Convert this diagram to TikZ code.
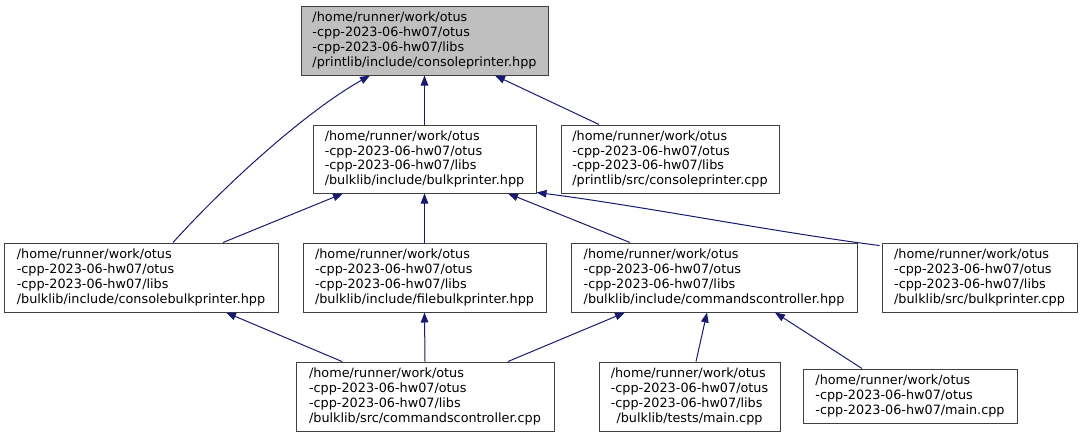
\documentclass[tikz,border=0pt]{standalone}
\usepackage{fontspec}
\setmainfont{DejaVu Sans}
\usetikzlibrary{arrows.meta}
\definecolor{edgeblue}{HTML}{191970}
\definecolor{boxline}{HTML}{404040}
\definecolor{topfill}{HTML}{BFBFBF}
\newlength\tmlinew
\begin{document}
\begin{tikzpicture}[x=1pt,y=-1pt,
  filebox/.style n args={2}{draw=boxline, line width=1pt, fill=white, align=left,
    inner sep=0pt, font=\fontsize{12.8}{14.7}\selectfont,
    minimum width=#1pt, minimum height=#2pt},
  dep/.style={draw=edgeblue, line width=1pt, -{Triangle[length=10pt,width=7.5pt]}}]
\useasboundingbox (0,0) rectangle (1082,437);

\node[filebox={247}{69}, fill=topfill] (T) at (424.5,40.5)
  {/home/runner/work/otus\\-cpp-2023-06-hw07/otus\\-cpp-2023-06-hw07/libs\\/printlib/include/consoleprinter.hpp};
\node[filebox={223}{68}] (B) at (424.5,159)
  {/home/runner/work/otus\\-cpp-2023-06-hw07/otus\\-cpp-2023-06-hw07/libs\\/bulklib/include/bulkprinter.hpp};
\node[filebox={218}{68}] (CP) at (670,159)
  {/home/runner/work/otus\\-cpp-2023-06-hw07/otus\\-cpp-2023-06-hw07/libs\\/printlib/src/consoleprinter.cpp};
\node[filebox={274}{69}] (CBP) at (141,277.5)
  {/home/runner/work/otus\\-cpp-2023-06-hw07/otus\\-cpp-2023-06-hw07/libs\\/bulklib/include/consolebulkprinter.hpp};
\node[filebox={243}{69}] (FBP) at (424.5,277.5)
  {/home/runner/work/otus\\-cpp-2023-06-hw07/otus\\-cpp-2023-06-hw07/libs\\/bulklib/include/filebulkprinter.hpp};
\node[filebox={286}{69}] (CCH) at (714,277.5)
  {/home/runner/work/otus\\-cpp-2023-06-hw07/otus\\-cpp-2023-06-hw07/libs\\/bulklib/include/commandscontroller.hpp};
\node[filebox={195}{69}] (BPC) at (979.5,277.5)
  {/home/runner/work/otus\\-cpp-2023-06-hw07/otus\\-cpp-2023-06-hw07/libs\\/bulklib/src/bulkprinter.cpp};
\node[filebox={258}{69}] (CCC) at (425,396.5)
  {/home/runner/work/otus\\-cpp-2023-06-hw07/otus\\-cpp-2023-06-hw07/libs\\/bulklib/src/commandscontroller.cpp};
\node[filebox={181}{69}] (TM) at (689.5,396.5)
  {/home/runner/work/otus\\-cpp-2023-06-hw07/otus\\-cpp-2023-06-hw07/libs\\\settowidth\tmlinew{-cpp-2023-06-hw07/otus}\makebox[\tmlinew][c]{/bulklib/tests/main.cpp}};
\node[filebox={214}{54}] (MC) at (910,396)
  {/home/runner/work/otus\\-cpp-2023-06-hw07/otus\\-cpp-2023-06-hw07/main.cpp};

% edges (child -> included header)
\draw[dep] ([xshift=32pt]CBP.north) .. controls (225,185) and (305,112) .. ([xshift=-54.5pt]T.south);
\draw[dep] (B.north) -- (T.south);
\draw[dep] ([xshift=-71pt]CP.north) -- ([xshift=70.5pt]T.south);
\draw[dep] ([xshift=82pt]CBP.north) -- ([xshift=-81.5pt]B.south);
\draw[dep] (FBP.north) -- (B.south);
\draw[dep] ([xshift=-84pt]CCH.north) -- ([xshift=83.5pt]B.south);
\draw[dep] ([xshift=-2pt,yshift=-3pt]BPC.north west) .. controls (780,233) and (636,205) .. ([yshift=1pt]B.south east);
\draw[dep] ([xshift=-83pt]CCC.north) -- ([xshift=85pt]CBP.south);
\draw[dep] (CCC.north) -- (FBP.south);
\draw[dep] ([xshift=83pt]CCC.north) -- ([xshift=-89pt]CCH.south);
\draw[dep] ([xshift=6.5pt]TM.north) -- ([xshift=-7pt]CCH.south);
\draw[dep] ([xshift=-48pt]MC.north) -- ([xshift=61pt]CCH.south);
\end{tikzpicture}
\end{document}
